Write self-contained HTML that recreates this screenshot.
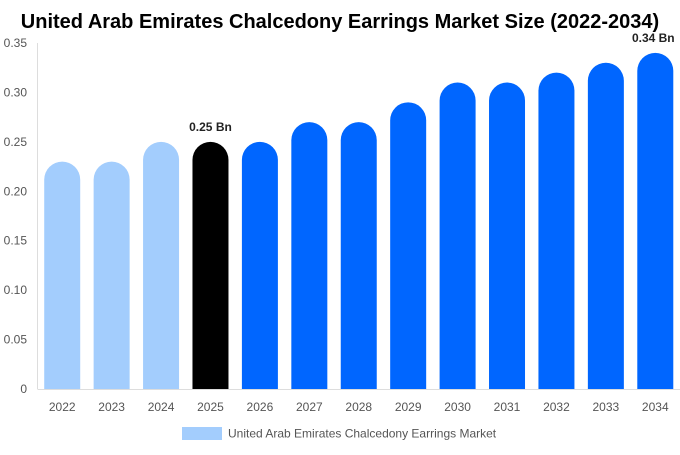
<!DOCTYPE html>
<html><head><meta charset="utf-8"><style>
body{margin:0;background:#fff;font-family:"Liberation Sans",Arial,sans-serif}
</style></head><body>
<svg width="680" height="450" xmlns="http://www.w3.org/2000/svg">
<text x="340" y="28" text-anchor="middle" font-size="20" font-weight="bold" fill="#000">United Arab Emirates Chalcedony Earrings Market Size (2022-2034)</text>
<g id="axes"></g>
<g id="bars"></g>
<g>
<rect x="182" y="427" width="40" height="13" fill="#a3cdfd"></rect>
<text x="228" y="437.5" font-size="12" fill="#555">United Arab Emirates Chalcedony Earrings Market</text>
</g>
</svg>
<script>
const categories=["2022","2023","2024","2025","2026","2027","2028","2029","2030","2031","2032","2033","2034"];
const values=[0.23,0.23,0.25,0.25,0.25,0.27,0.27,0.29,0.31,0.31,0.32,0.33,0.34];
const barColors=["#a3cdfd","#a3cdfd","#a3cdfd","#000000","#0066ff","#0066ff","#0066ff","#0066ff","#0066ff","#0066ff","#0066ff","#0066ff","#0066ff"];
const yTicks=[0,0.05,0.10,0.15,0.20,0.25,0.30,0.35];
const yTickLabels=["0","0.05","0.10","0.15","0.20","0.25","0.30","0.35"];
const annotations={"2025":"0.25 Bn","2034":"0.34 Bn"};
const NS="http://www.w3.org/2000/svg";
const x0=37.5,x1=680,yB=389,yT=43,yMax=0.35;
const band=(x1-x0)/categories.length,bw=36;
const y=v=>yB-(v/yMax)*(yB-yT);
const xc=i=>x0+band*(i+0.5);
const axes=document.getElementById('axes'),bars=document.getElementById('bars');
function mk(t,a,p){const e=document.createElementNS(NS,t);for(const k in a)e.setAttribute(k,a[k]);p.appendChild(e);return e;}
const yl=mk('line',{x1:x0,y1:yT,x2:x0,y2:yB,stroke:'#ddd'},axes);


const xl=mk('line',{x1:x0,y1:yB+0.5,x2:x1,y2:yB+0.5,stroke:'#ddd'},axes);


yTicks.forEach((t,i)=>{const e=mk('text',{x:27,y:y(t)+4,'text-anchor':'end','font-size':12,fill:'#555'},axes);e.textContent=yTickLabels[i];

});
categories.forEach((c,i)=>{
const cx=xc(i),top=y(values[i]),r=bw/2,l=cx-r;
const d=`M${l},${yB}L${l},${top+r}A${r},${r} 0 0 1 ${l+bw},${top+r}L${l+bw},${yB}Z`;
const p=mk('path',{d:d,fill:barColors[i]},bars);


const t=mk('text',{x:cx,y:411,'text-anchor':'middle','font-size':12,fill:'#555'},axes);t.textContent=c;


if(annotations[c]){const ax=i===categories.length-1?cx-2:cx;
const a=mk('text',{x:ax,y:top-11,'text-anchor':'middle','font-size':12,'font-weight':'bold',fill:'#222'},bars);a.textContent=annotations[c];

}
});
</script>
</body></html>
